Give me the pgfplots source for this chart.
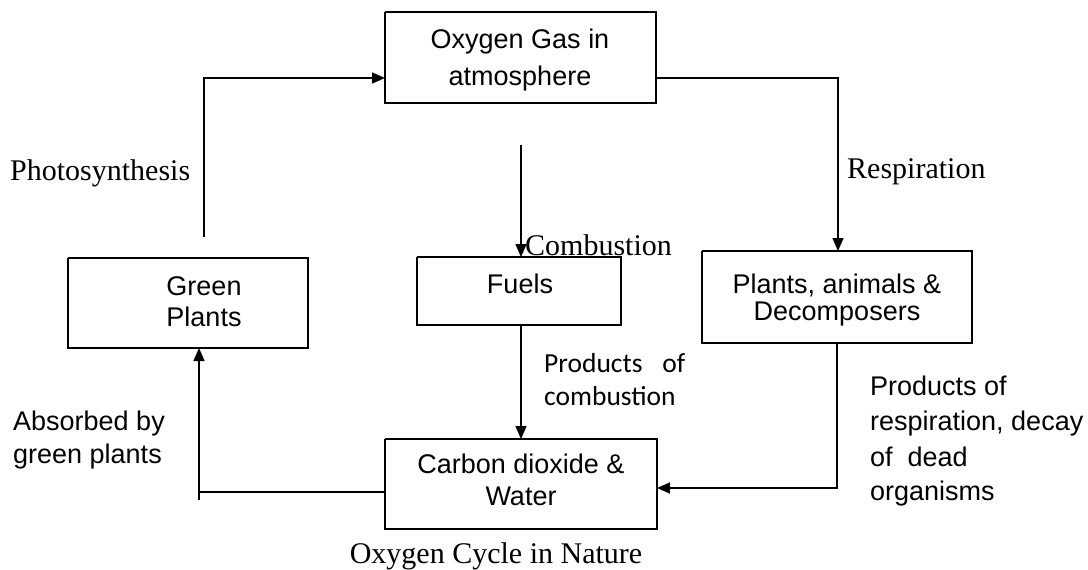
\documentclass[border=0pt]{standalone}
\usepackage{pgfplots}
\pgfplotsset{compat=1.18}
\usetikzlibrary{arrows.meta}
\usepackage{fontspec}
\setmainfont{Liberation Serif}
\newfontfamily\arial{Liberation Sans}
\newfontfamily\calibri{Carlito}
\tikzset{
  myarr/.style={-{Triangle[length=13pt,width=11pt]}},
  bxt/.style={font=\arial\fontsize{27}{30}\selectfont, anchor=base, inner sep=0pt},
  lbl/.style={anchor=base west, inner sep=0pt, font=\arial\fontsize{27}{30}\selectfont},
  tms/.style={anchor=base west, inner sep=0pt, font=\fontsize{30}{34}\selectfont},
}
\begin{document}
\begin{tikzpicture}
\begin{axis}[
  width=1088pt, height=569pt, scale only axis,
  xmin=0, xmax=1088, ymin=0, ymax=569, y dir=reverse,
  hide axis, clip=false,
  every axis plot/.append style={line width=1.4pt, mark=none},
]
\path (axis cs:0,0) rectangle (axis cs:1088,569);
% boxes
\addplot[black] coordinates {(385,12) (656,12) (656,103) (385,103) (385,12)};
\addplot[black] coordinates {(68,258) (308,258) (308,348) (68,348) (68,258)};
\addplot[black] coordinates {(417,257) (621,257) (621,325) (417,325) (417,257)};
\addplot[black] coordinates {(702,251) (972,251) (972,343) (702,343) (702,251)};
\addplot[black] coordinates {(385,439) (657,439) (657,529) (385,529) (385,439)};
% arrows
\addplot[black, myarr] coordinates {(204,237) (204,78) (385,78)};
\addplot[black, myarr] coordinates {(656,78) (838,78) (838,251)};
\addplot[black, myarr] coordinates {(521,145) (521,257)};
\addplot[black, myarr] coordinates {(521,325) (521,439)};
\addplot[black, myarr] coordinates {(837,343) (837,488) (657,488)};
\addplot[black] coordinates {(385,492) (199,492)};
\addplot[black, myarr] coordinates {(199,500) (199,348)};
% box texts
\node[bxt] at (axis cs:520,48) {Oxygen Gas in};
\node[bxt] at (axis cs:520,85) {atmosphere};
\node[bxt] at (axis cs:204,295) {Green};
\node[bxt] at (axis cs:204,326) {Plants};
\node[bxt] at (axis cs:520,293) {Fuels};
\node[bxt] at (axis cs:837,293) {Plants, animals \&};
\node[bxt] at (axis cs:837,320) {Decomposers};
\node[bxt] at (axis cs:521,473) {Carbon dioxide \&};
\node[bxt] at (axis cs:521,505) {Water};
% labels
\node[tms] at (axis cs:10,180) {Photosynthesis};
\node[tms] at (axis cs:847,178) {Respiration};
\node[tms] at (axis cs:525,255) {Combustion};
\node[tms, anchor=base] at (axis cs:496,563) {Oxygen Cycle in Nature};
\node[lbl, font=\calibri\fontsize{27.5}{30}\selectfont] at (axis cs:544,372) {\hbox to 141pt{Products\hfill of}};
\node[lbl, font=\calibri\fontsize{27.5}{30}\selectfont] at (axis cs:544,405) {combustion};
\node[lbl] at (axis cs:870,395) {Products of};
\node[lbl] at (axis cs:870,430) {respiration, decay};
\node[lbl] at (axis cs:870,466) {of\ \ dead};
\node[lbl] at (axis cs:870,500) {organisms};
\node[lbl] at (axis cs:13,430) {Absorbed by};
\node[lbl] at (axis cs:13,463) {green plants};
\end{axis}
\end{tikzpicture}
\end{document}
